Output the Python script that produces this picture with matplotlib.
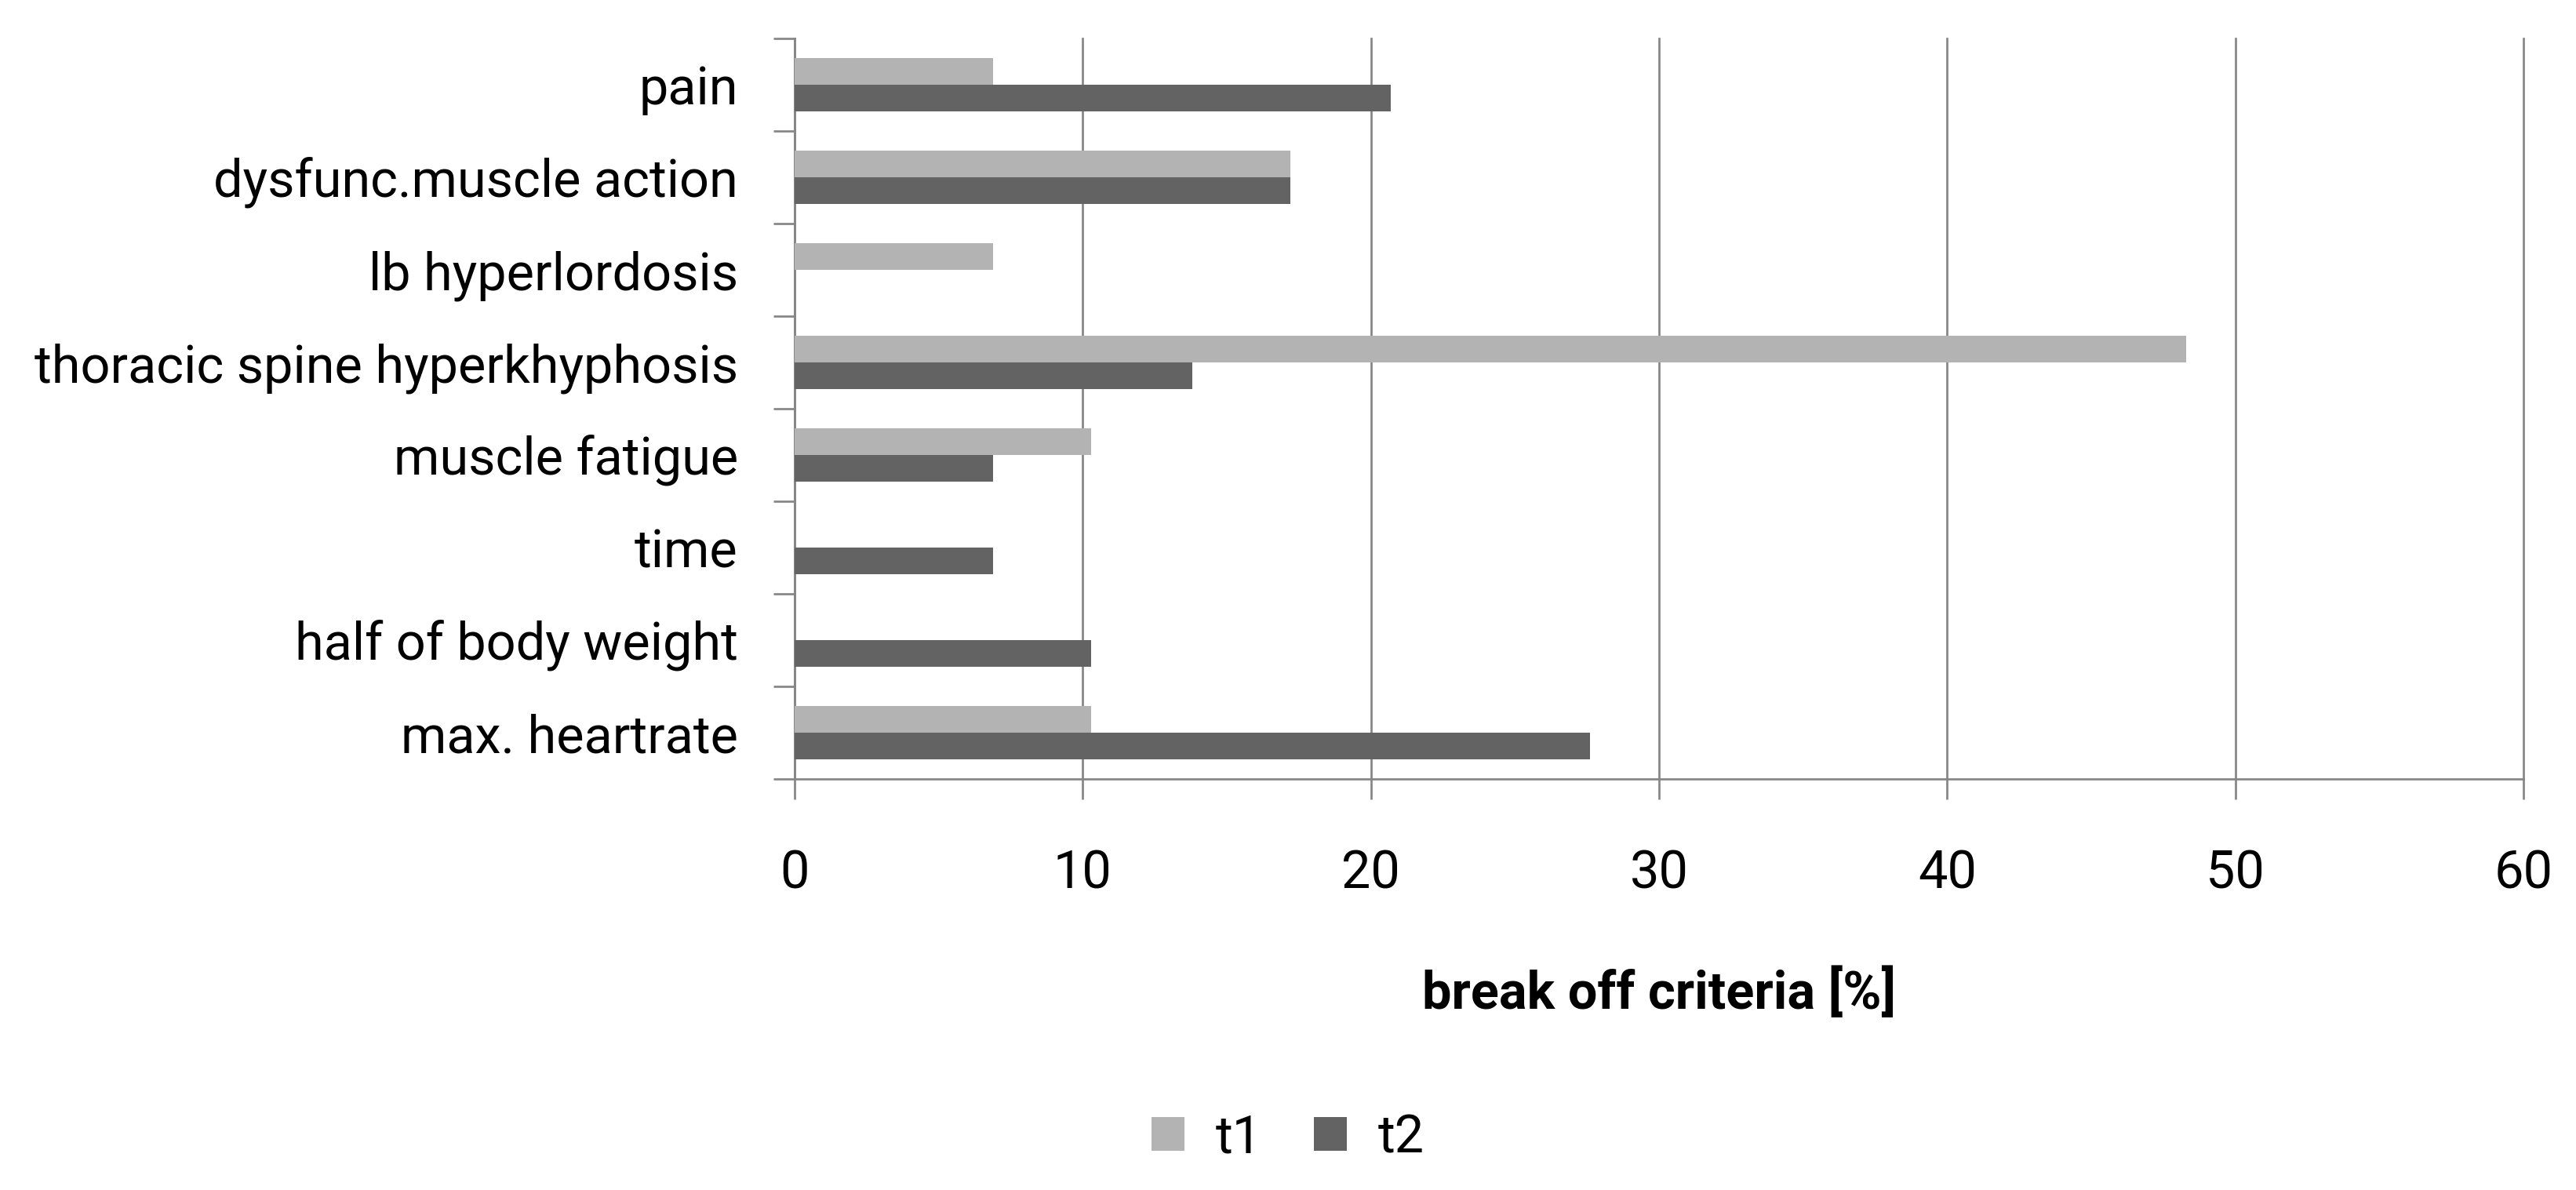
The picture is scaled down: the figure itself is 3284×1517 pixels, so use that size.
import numpy as np
from matplotlib import pyplot as plt

# break off criteria, top to bottom as in the chart
categories = ["pain", "dysfunc.muscle action", "lb hyperlordosis",
              "thoracic spine hyperkhyphosis", "muscle fatigue", "time",
              "half of body weight", "max. heartrate"]
t1 = [6.9, 17.2, 6.9, 48.3, 10.3, 0, 0, 10.3]
t2 = [20.7, 17.2, 0, 13.8, 6.9, 6.9, 10.3, 27.6]
x_ticks = [0, 10, 20, 30, 40, 50, 60]

plt.rcParams['font.family'] = ['Roboto', 'DejaVu Sans']

grey = '#868686'
fs = 48

fig = plt.figure(figsize=(32.84, 15.17), dpi=100)
ax = fig.add_axes([1013 / 3284, 1 - 993 / 1517, 2204 / 3284, 944 / 1517])

y = np.arange(len(categories))
h = 0.285
ax.barh(y - h / 2, t1, height=h, color='#b3b3b3', label='t1', zorder=3)
ax.barh(y + h / 2, t2, height=h, color='#636363', label='t2', zorder=3)

ax.set_xlim(0, 60)
ax.set_ylim(len(categories) - 0.5, -0.5)
ax.set_xticks(x_ticks)
ax.set_xticklabels([str(v) for v in x_ticks], fontsize=fs)
ax.xaxis.grid(True, color=grey, linewidth=1.95, zorder=0)
for line in ax.get_xgridlines():
    line.set_clip_on(False)

# ticks sit between categories, labels at the centres
ax.set_yticks(np.arange(len(categories) + 1) - 0.5)
ax.set_yticklabels([])
ax.set_yticks(y, minor=True)
ax.set_yticklabels(categories, minor=True, fontsize=fs)
ax.tick_params(axis='y', which='minor', length=0, pad=52)
ax.tick_params(axis='y', which='major', length=27 * 0.72, width=1.95, color=grey)
ax.tick_params(axis='x', length=26 * 0.72, width=1.95, color=grey, pad=46)

for side in ['top', 'right']:
    ax.spines[side].set_visible(False)
for side in ['left', 'bottom']:
    ax.spines[side].set_color(grey)
    ax.spines[side].set_linewidth(1.95)

ax.set_xlabel("break off criteria [%]", fontsize=fs, fontweight='bold')
ax.xaxis.set_label_coords(0.5, (993 - 1267) / 944)
ax.xaxis.label.set_va('center')

fig.legend(loc='center', bbox_to_anchor=(0.5, 1 - 1451 / 1517), ncol=2,
           frameon=False, fontsize=fs, handlelength=0.62, handleheight=0.62,
           handletextpad=0.6, columnspacing=1.0)

plt.savefig('out.png', dpi=100)
